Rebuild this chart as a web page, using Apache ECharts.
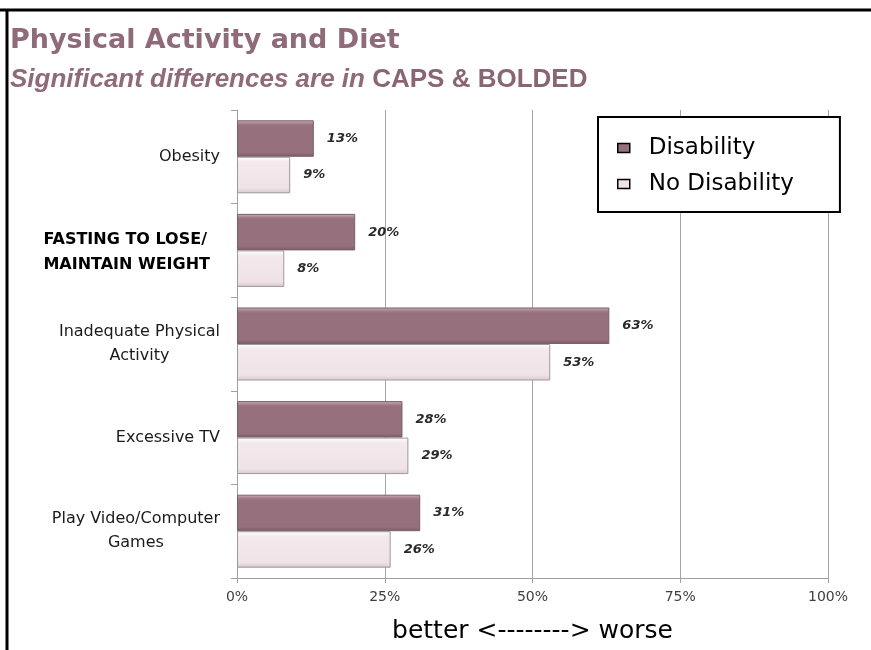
<!DOCTYPE html>
<html>
<head>
<meta charset="utf-8">
<script src="https://cdn.jsdelivr.net/npm/echarts@6/dist/echarts.min.js"></script>
<style>html,body{margin:0;padding:0;background:#fff}#c{width:871px;height:650px}</style>
</head>
<body>
<div id="c"></div>
<script>
var categories = ['Obesity', 'FASTING TO LOSE/\nMAINTAIN WEIGHT', 'Inadequate Physical\nActivity', 'Excessive TV', 'Play Video/Computer\nGames'];
var boldCategories = ['FASTING TO LOSE/\nMAINTAIN WEIGHT'];
var disability = [13, 20, 63, 28, 31];
var noDisability = [9, 8, 53, 29, 26];
var xTicks = [0, 25, 50, 75, 100];

var chart = echarts.init(document.getElementById('c'), null, {renderer: 'canvas'});

var disFill = new echarts.graphic.LinearGradient(0, 0, 0, 1, [
  {offset: 0, color: '#d2afbb'}, {offset: 0.1, color: '#a17c89'},
  {offset: 0.15, color: '#96707d'}, {offset: 0.88, color: '#96707d'},
  {offset: 1, color: '#7c5a67'}]);
var noFill = new echarts.graphic.LinearGradient(0, 0, 0, 1, [
  {offset: 0, color: '#ffffff'}, {offset: 0.15, color: '#f3e8ec'},
  {offset: 0.85, color: '#efe3e7'}, {offset: 1, color: '#d9c9cf'}]);

var labelStyle = {
  show: true, position: 'right', distance: 13,
  formatter: '{c}%', fontStyle: 'italic', fontWeight: 'bold',
  fontFamily: 'DejaVu Sans', fontSize: 13, color: '#2a2a2a'
};

chart.setOption({
  animation: false,
  backgroundColor: '#fff',
  title: [{
    left: 5, top: 22,
    text: 'Physical Activity and Diet',
    textStyle: {fontFamily: 'DejaVu Sans', fontWeight: 'bold', fontSize: 27, color: '#8f6a78'}
  }, {
    left: 5, top: 62,
    text: '{i|Significant differences are in }{b|CAPS & BOLDED}',
    textStyle: {
      rich: {
        i: {fontFamily: 'Liberation Sans', fontStyle: 'italic', fontSize: 26, color: '#8f6a78'},
        b: {fontFamily: 'Liberation Sans', fontWeight: 'bold', fontSize: 26, color: '#8a6573'}
      }
    }
  }],
  graphic: [
    {type: 'line', shape: {x1: 0, y1: 10, x2: 871, y2: 10}, style: {stroke: '#000', lineWidth: 3}, z: 100},
    {type: 'line', shape: {x1: 7, y1: 9, x2: 7, y2: 650}, style: {stroke: '#000', lineWidth: 3}, z: 100}
  ],
  legend: {
    orient: 'vertical', left: 598, top: 117,
    backgroundColor: '#fff', borderColor: '#000', borderWidth: 2,
    padding: [18, 46, 15, 19], itemGap: 10,
    itemWidth: 12, itemHeight: 9, icon: 'rect',
    textStyle: {fontFamily: 'DejaVu Sans', fontSize: 23, lineHeight: 26, color: '#000', padding: [0, 0, 0, 14]},
    data: [
      {name: 'Disability', itemStyle: {color: '#96707d', borderColor: '#000', borderWidth: 1.5}},
      {name: 'No Disability', itemStyle: {color: '#efe3e7', borderColor: '#000', borderWidth: 1.5}}
    ]
  },
  grid: {left: 237, right: 43, top: 110, bottom: 72, containLabel: false},
  xAxis: {
    type: 'value', min: 0, max: 100, interval: 25,
    axisLine: {show: true, lineStyle: {color: '#a0a0a0'}},
    axisTick: {show: true, length: 5, lineStyle: {color: '#a0a0a0'}},
    splitLine: {show: true, lineStyle: {color: '#a6a6a6'}},
    axisLabel: {formatter: function (v) { return xTicks.indexOf(v) >= 0 ? v + '%' : ''; },
      fontFamily: 'DejaVu Sans', fontSize: 14, color: '#404040', margin: 12},
    name: 'better <--------> worse', nameLocation: 'middle', nameGap: 41,
    nameTextStyle: {fontFamily: 'DejaVu Sans', fontSize: 25, color: '#000', verticalAlign: 'top'}
  },
  yAxis: {
    type: 'category', inverse: true, data: categories,
    axisLine: {show: true, lineStyle: {color: '#a0a0a0'}},
    axisTick: {show: true, length: 6, lineStyle: {color: '#a0a0a0'}},
    splitLine: {show: false},
    axisLabel: {
      margin: 17,
      formatter: function (v) {
        return boldCategories.indexOf(v) >= 0 ? '{b|' + v + '}' : '{n|' + v + '}';
      },
      rich: {
        n: {fontFamily: 'DejaVu Sans', fontSize: 16, color: '#1a1a1a', align: 'center', lineHeight: 24},
        b: {fontFamily: 'DejaVu Sans', fontWeight: 'bold', fontSize: 16, color: '#000', align: 'left', lineHeight: 25, padding: [4, 10, 0, 0]}
      }
    }
  },
  series: [{
    name: 'Disability', type: 'bar', data: disability,
    barCategoryGap: '22%', barGap: '0%',
    itemStyle: {color: disFill, borderColor: '#7a6068', borderWidth: 1},
    label: labelStyle
  }, {
    name: 'No Disability', type: 'bar', data: noDisability,
    barCategoryGap: '22%', barGap: '0%',
    itemStyle: {color: noFill, borderColor: '#9a9a9a', borderWidth: 1},
    label: labelStyle
  }]
});
</script>
</body>
</html>
